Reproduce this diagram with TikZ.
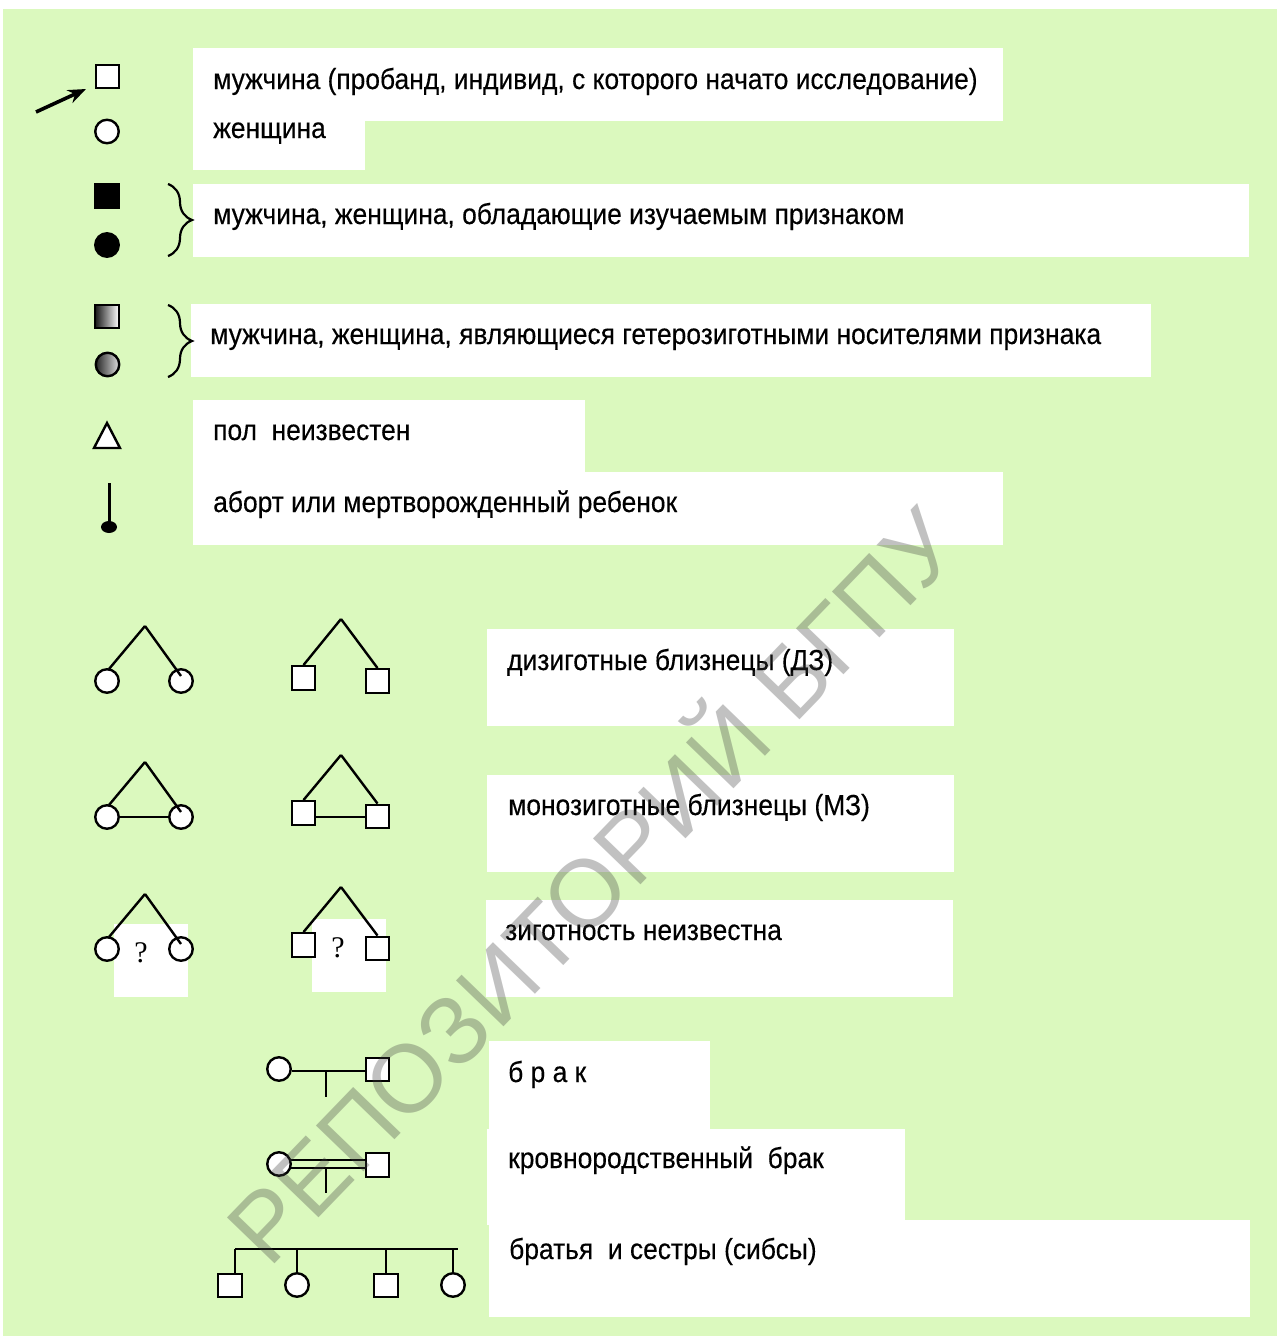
\documentclass[tikz,border=0pt]{standalone}
\usepackage{fontspec}
\setmainfont{Liberation Sans}[FakeStretch=0.91,FakeBold=0.3]
\newfontfamily\qfont{Liberation Serif}
\newfontfamily\wmfont{Liberation Sans}
\usetikzlibrary{arrows.meta,decorations.pathreplacing,calc}
\definecolor{bggreen}{RGB}{219,249,190}
\begin{document}
\begin{tikzpicture}[x=1pt,y=-1pt,
  lbl/.style={anchor=base west,inner sep=0pt,font=\fontsize{29}{34}\selectfont},
  wbox/.style={fill=white,draw=none},
  sq/.style={draw,fill=white,line width=2.4pt,minimum size=23.5pt,inner sep=0pt,rectangle},
  ci/.style={draw,fill=white,line width=2.4pt,minimum size=23.5pt,inner sep=0pt,circle},
  ln/.style={line width=2.4pt},
  brc/.style={decorate,decoration={brace,amplitude=24pt},line width=2.2pt},
  qm/.style={inner sep=0pt,font=\qfont\fontsize{30}{34}\selectfont}
]
\useasboundingbox (0,0) rectangle (1277,1336);
\fill[white] (0,0) rectangle (1277,1336);
\fill[bggreen] (3,9) rectangle (1277,1336);

% white label boxes
\fill[wbox] (193,48) rectangle (1003,121);
\fill[wbox] (193,121) rectangle (365,170);
\fill[wbox] (193,184) rectangle (1249,257);
\fill[wbox] (191,304) rectangle (1151,377);
\fill[wbox] (193,400) rectangle (585,472);
\fill[wbox] (193,472) rectangle (1003,545);
\fill[wbox] (487,629) rectangle (954,726);
\fill[wbox] (487,775) rectangle (954,872);
\fill[wbox] (486,900) rectangle (953,997);
\fill[wbox] (489,1041) rectangle (710,1129);
\fill[wbox] (487,1129) rectangle (905,1225);
\fill[wbox] (489,1220) rectangle (1250,1317);
\fill[wbox] (114,924) rectangle (188,997);
\fill[wbox] (312,919) rectangle (386,992);

% labels
\node[lbl] (t1) at (213,89) {мужчина (пробанд, индивид, с которого начато исследование)};
\node[lbl] (t2) at (213,138) {женщина};
\node[lbl] (t3) at (213,224) {мужчина, женщина, обладающие изучаемым признаком};
\node[lbl] (t4) at (210,344) {мужчина, женщина, являющиеся гетерозиготными носителями признака};
\node[lbl] (t5) at (213,440) {пол~~неизвестен};
\node[lbl] (t6) at (213,512) {аборт или мертворожденный ребенок};
\node[lbl] (t7) at (507,670) {дизиготные близнецы (ДЗ)};
\node[lbl] (t8) at (508,815) {монозиготные близнецы (МЗ)};
\node[lbl] (t9) at (505,940) {зиготность неизвестна};
\node[lbl] (t10) at (508,1082) {б р а к};
\node[lbl] (t11) at (508,1168) {кровнородственный~~брак};
\node[lbl] (t12) at (509,1259) {братья~~и сестры (сибсы)};

% legend symbols
\node[sq] (p1) at (107.5,76.5) {};
\coordinate (astart) at (36,112);
\coordinate (atip) at (86,89);
\draw[line width=3.6pt,-{Stealth[length=18pt,width=14pt]}] (astart) -- (atip);
\node[ci] (p2) at (107,131.5) {};
\node[sq,fill=black] (p3) at (107,196) {};
\node[ci,fill=black] (p4) at (107,245) {};
\draw[brc] (168,184) -- (168,256);
\node[sq,left color=black!90,right color=white] (p5) at (107,316.5) {};
\node[ci,left color=black!85,right color=black!12] (p6) at (107.5,364.5) {};
\draw[brc] (168,305) -- (168,377);
\draw[ln,fill=white,line join=miter] (107,423) -- (120,448) -- (94,448) -- cycle;
\coordinate (ab1) at (109,483);
\coordinate (ab2) at (109,527);
\draw[line width=3pt] (ab1) -- (ab2);
\fill (ab2) ellipse [x radius=8, y radius=6];

% dizygotic twins
\coordinate (dzga) at (145,626);
\node[ci] (dzg1) at (107,681) {};
\node[ci] (dzg2) at (181,681) {};
\draw[ln] (dzga) -- ($(dzg1.center)+(2,-12)$);
\draw[ln] (dzga) -- ($(dzg2.center)+(0,-5)$);
\coordinate (dzba) at (341,619);
\node[sq] (dzb1) at (303.5,678) {};
\node[sq] (dzb2) at (377.5,681) {};
\draw[ln] (dzba) -- (dzb1.north);
\draw[ln] (dzba) -- (dzb2.north);

% monozygotic twins
\coordinate (mzga) at (145,762);
\node[ci] (mzg1) at (107,817) {};
\node[ci] (mzg2) at (181,817) {};
\draw[ln] (mzga) -- ($(mzg1.center)+(2,-12)$);
\draw[ln] (mzga) -- ($(mzg2.center)+(0,-5)$);
\draw[ln] (mzg1.east) -- (mzg2.west);
\coordinate (mzba) at (341,755);
\node[sq] (mzb1) at (303.5,813) {};
\node[sq] (mzb2) at (377.5,816.5) {};
\draw[ln] (mzba) -- (mzb1.north);
\draw[ln] (mzba) -- (mzb2.north);
\coordinate (mzbl) at (0,817);
\draw[ln] (mzb1.east |- mzbl) -- (mzb2.west |- mzbl);

% unknown zygosity
\coordinate (uzga) at (145,894);
\node[ci] (uzg1) at (107,949) {};
\node[ci] (uzg2) at (181,949) {};
\draw[ln] (uzga) -- ($(uzg1.center)+(2,-12)$);
\draw[ln] (uzga) -- ($(uzg2.center)+(0,-5)$);
\node[qm] (q1) at (141,953) {?};
\coordinate (uzba) at (341,887);
\node[sq] (uzb1) at (303.5,945) {};
\node[sq] (uzb2) at (377.5,948.5) {};
\draw[ln] (uzba) -- (uzb1.north);
\draw[ln] (uzba) -- (uzb2.north);
\node[qm] (q2) at (338,948) {?};

% marriage
\node[ci] (m1) at (279,1069) {};
\node[sq] (m2) at (377.5,1069.5) {};
\coordinate (md1) at (326,1071);
\coordinate (md2) at (326,1097);
\draw[ln] (m1.east |- md1) -- (m2.west |- md1);
\draw[ln] (md1) -- (md2);

% consanguineous marriage
\node[ci] (k1) at (279,1164) {};
\node[sq] (k2) at (377.5,1165) {};
\draw[ln] (k1.19) -- (k1.19 -| k2.west);
\draw[ln] (k1.-19) -- (k1.-19 -| k2.west);
\coordinate (kd1) at (326,1168);
\coordinate (kd2) at (326,1193);
\draw[ln] (kd1) -- (kd2);

% sibs
\node[sq] (s1) at (230,1285.5) {};
\node[ci] (s2) at (297,1285) {};
\node[sq] (s3) at (386,1285.5) {};
\node[ci] (s4) at (453,1285) {};
\coordinate (barL) at (235,1249);
\coordinate (barR) at (458,1249);
\draw[ln] (barL) -- (barR);
\draw[ln] (barL) -- (barL |- s1.north);
\draw[ln] (s2.north |- barL) -- (s2.north);
\draw[ln] (s3.north |- barL) -- (s3.north);
\draw[ln] (s4.north |- barL) -- (s4.north);

% watermark
\node[rotate=46,text=black!75,opacity=0.32,inner sep=0pt,font=\wmfont\fontsize{96}{100}\selectfont] (wm) at (586,880) {РЕПОЗИТОРИЙ БГПУ};
\end{tikzpicture}
\end{document}
